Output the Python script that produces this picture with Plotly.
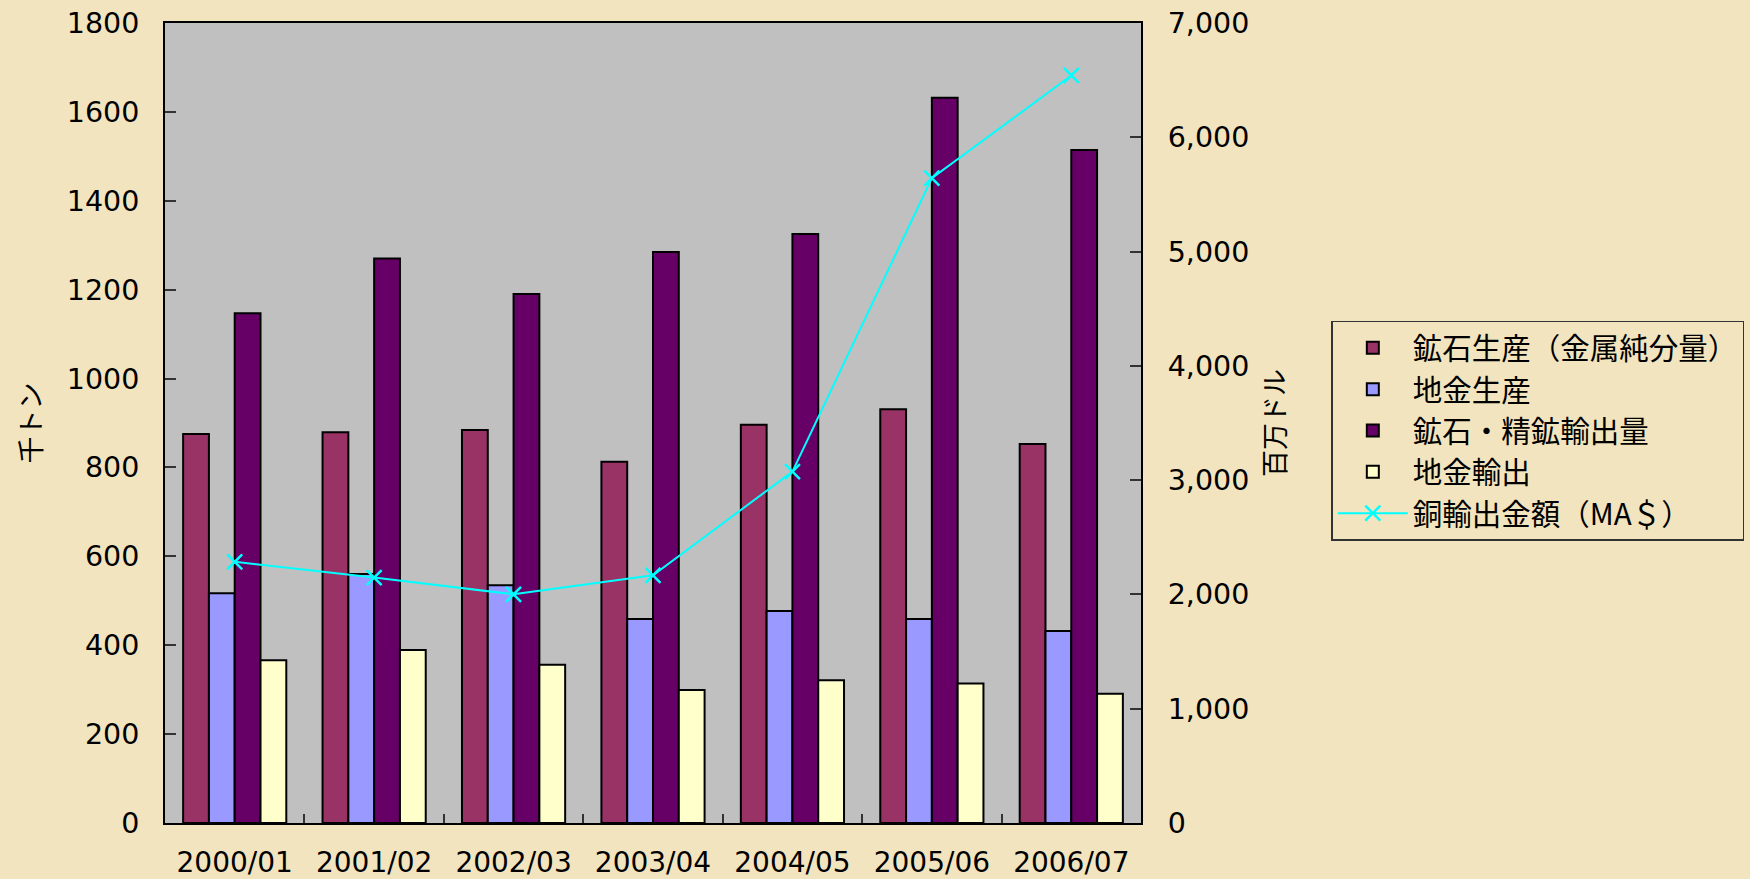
import plotly.graph_objects as go

categories = ["2000/01", "2001/02", "2002/03", "2003/04", "2004/05", "2005/06", "2006/07"]

ore_production = [875, 879, 884, 813, 896, 931, 853]        # 鉱石生産（金属純分量）
bullion_production = [517, 560, 535, 459, 477, 459, 432]    # 地金生産
ore_export = [1147, 1270, 1190, 1285, 1325, 1632, 1514]     # 鉱石・精鉱輸出量
bullion_export = [366, 389, 356, 299, 321, 314, 291]        # 地金輸出
copper_export_value = [2285, 2148, 2001, 2167, 3075, 5643, 6541]  # 銅輸出金額（MA＄）

names = ["鉱石生産（金属純分量）", "地金生産", "鉱石・精鉱輸出量", "地金輸出", "銅輸出金額（MA＄）"]
bar_colors = ["#993366", "#9999FF", "#660066", "#FFFFCC"]

NUM_FONT = "'DejaVu Sans', 'Noto Sans CJK JP', sans-serif"
CJK_FONT = "'Noto Sans CJK JP', 'Noto Sans', sans-serif"

fig = go.Figure()
for vals, name, col in zip([ore_production, bullion_production, ore_export, bullion_export],
                           names[:4], bar_colors):
    fig.add_trace(go.Bar(
        x=categories, y=vals, name=name,
        marker=dict(color=col, line=dict(color="#000000", width=2)),
    ))

fig.add_trace(go.Scatter(
    x=categories, y=copper_export_value, name=names[4], yaxis="y2",
    mode="lines+markers",
    line=dict(color="#00FFFF", width=2),
    marker=dict(symbol="x-thin-open", size=15, color="#00FFFF",
                line=dict(color="#00FFFF", width=2.5)),
))

fig.update_layout(
    width=1750, height=879,
    margin=dict(l=165, r=609, t=23, b=56, autoexpand=False),
    paper_bgcolor="#F2E4BE",
    plot_bgcolor="#C0C0C0",
    barmode="group",
    bargap=0.26,
    bargroupgap=0,
    font=dict(family=NUM_FONT, size=28, color="#000000"),
    showlegend=True,
    legend=dict(
        x=1.195, xanchor="left", y=0.628, yanchor="top",
        bgcolor="rgba(0,0,0,0)",
        bordercolor="#333333", borderwidth=1.5,
        font=dict(family=CJK_FONT, size=29.5, color="#000000"),
        itemwidth=70,
        tracegroupgap=0,
        traceorder="normal",
    ),
    xaxis=dict(
        type="category",
        showline=True, linecolor="#000000", linewidth=2, mirror=True,
        ticks="inside", ticklen=9, tickcolor="#333333", tickwidth=1.5,
        tickson="boundaries",
        tickfont=dict(family=NUM_FONT, size=28),
        ticklabelstandoff=13,
        showgrid=False, zeroline=False,
    ),
    yaxis=dict(
        range=[0, 1800], dtick=200, tickformat="d",
        showline=True, linecolor="#000000", linewidth=2, mirror=False,
        ticks="inside", ticklen=11, tickcolor="#333333", tickwidth=1.5,
        tickfont=dict(family=NUM_FONT, size=28.5),
        ticklabelstandoff=18,
        showgrid=False, zeroline=False,
        title=dict(text="千トン", font=dict(family=CJK_FONT, size=27), standoff=17),
    ),
    yaxis2=dict(
        range=[0, 7000], dtick=1000, tickformat=",d",
        overlaying="y", side="right",
        showline=True, linecolor="#000000", linewidth=2,
        ticks="inside", ticklen=11, tickcolor="#333333", tickwidth=1.5,
        tickfont=dict(family=NUM_FONT, size=28.5),
        ticklabelstandoff=19,
        showgrid=False, zeroline=False,
        title=dict(text="百万ドル", font=dict(family=CJK_FONT, size=27), standoff=18),
    ),
)

fig.write_html("out.html", config={"displayModeBar": False},
               post_script="document.body.style.margin='0';")
